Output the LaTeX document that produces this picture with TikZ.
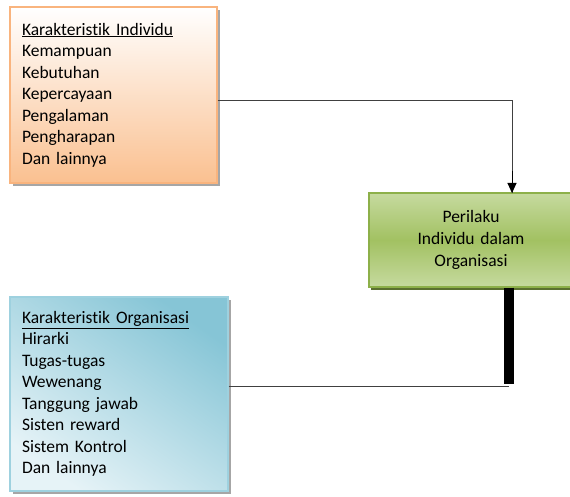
\documentclass[tikz,border=0pt]{standalone}
\usepackage{fontspec}
\setmainfont{Carlito}[Ligatures=NoCommon, WordSpace=0.7]
\usetikzlibrary{shadows,arrows.meta}

\definecolor{peach}{HTML}{FAC090}
\definecolor{peachline}{HTML}{F9B47E}
\definecolor{leaf}{HTML}{A2C162}
\definecolor{leaflight}{HTML}{C6DA9F}
\definecolor{leafline}{HTML}{8DB04A}
\definecolor{leafdark}{HTML}{5B7030}
\definecolor{sky}{HTML}{86C5D6}
\definecolor{skylight}{HTML}{E6F3F7}
\definecolor{skyline}{HTML}{9ED1DF}

\begin{document}
\begin{tikzpicture}[x=1pt,y=-1pt,
  box/.style={draw, line width=1.2pt, inner xsep=12pt, inner ysep=0pt,
    font=\fontsize{17.5}{21.5}\selectfont},
  indivbox/.style={box, draw=peachline, top color=white, bottom color=peach,
    align=left, drop shadow={shadow xshift=3pt, shadow yshift=-3pt, fill=black!35, opacity=1}},
  orgbox/.style={box, draw=skyline, top color=sky, bottom color=skylight, shading angle=-35,
    align=left, drop shadow={shadow xshift=3pt, shadow yshift=-3pt, fill=black!35, opacity=1}},
  resultbox/.style={box, draw=leafline, top color=leaflight, bottom color=leaflight, middle color=leaf,
    align=center, drop shadow={shadow xshift=2pt, shadow yshift=-3pt, fill=leafdark, opacity=1}},
  link/.style={draw=black!75, line width=0.9pt}]
  % Page frame
  \useasboundingbox (0,0) rectangle (570,497);
  % Boxes
  \node[indivbox, minimum width=207pt, minimum height=176pt, text width=183pt] (indiv) at (113.5,95)
    {\underline{Karakteristik Individu}\\ Kemampuan\\ Kebutuhan\\ Kepercayaan\\ Pengalaman\\ Pengharapan\\ Dan lainnya};
  \node[orgbox, minimum width=218pt, minimum height=194pt, text width=194pt] (orgn) at (119,394)
    {\underline{Karakteristik Organisasi}\\ Hirarki\\ Tugas-tugas\\ Wewenang\\ Tanggung jawab\\ Sisten reward\\ Sistem Kontrol\\ Dan lainnya};
  \node[resultbox, minimum width=204pt, minimum height=94pt, text width=180pt, font=\fontsize{17.5}{22}\selectfont] (perilaku) at (471,240)
    {Perilaku\\ Individu dalam\\ Organisasi};
  % Connectors
  \coordinate (entry) at (512,193);
  \coordinate (foot) at (509,386);
  \draw[link] ([yshift=-5pt]indiv.east) -| (entry);
  \draw[black, line width=1pt, -{Triangle[length=10pt,width=9pt]}] (512,171) -- (entry);
  \draw[line width=10pt] (perilaku.south -| foot) -- ([yshift=2pt]foot);
  \draw[link] (orgn.east |- foot) -- (foot);
\end{tikzpicture}
\end{document}
